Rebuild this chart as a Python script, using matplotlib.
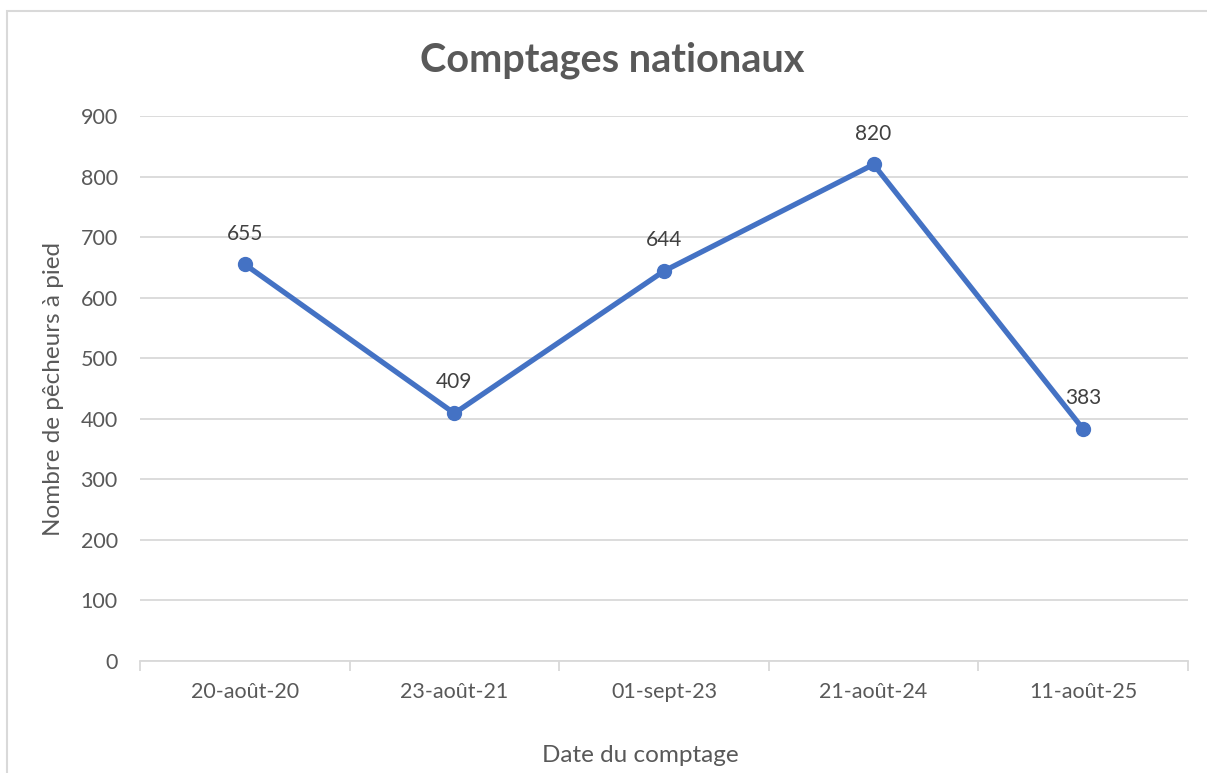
import matplotlib.pyplot as plt
from matplotlib.patches import Rectangle

plt.rcParams['font.family'] = ['Lato', 'DejaVu Sans']

# Données
dates = ['20-août-20', '23-août-21', '01-sept-23', '21-août-24', '11-août-25']
pecheurs = [655, 409, 644, 820, 383]
yticks = [0, 100, 200, 300, 400, 500, 600, 700, 800, 900]

gris = '#595959'
bleu = '#4472C4'

fig = plt.figure(figsize=(12.07, 7.73), dpi=100)
ax = fig.add_axes([140 / 1207, 1 - 661 / 773, (1188 - 140) / 1207, (661 - 116) / 773])

# cadre du graphique
fig.patches.append(Rectangle((7 / 1207, -0.05), 1.1, 1 - 11 / 773 + 0.05,
                             transform=fig.transFigure, fill=False,
                             edgecolor='#D9D9D9', linewidth=1.5))

x = list(range(len(dates)))
ax.plot(x, pecheurs, color=bleu, linewidth=3.8, marker='o', markersize=10,
        solid_capstyle='round', zorder=3)
for xi, v in zip(x, pecheurs):
    ax.annotate(str(v), (xi, v), xytext=(0, 15), textcoords='offset points',
                ha='center', va='bottom', fontsize=15, color='#404040')

ax.set_xlim(-0.5, len(dates) - 0.5)
ax.set_ylim(0, 900)
ax.set_yticks(yticks)
ax.set_xticks(x)
ax.set_xticklabels(dates)
ax.grid(axis='y', color='#D9D9D9', linewidth=1.3)
ax.set_axisbelow(True)
for s in ['top', 'right', 'left']:
    ax.spines[s].set_visible(False)
ax.spines['bottom'].set_color('#D9D9D9')
ax.spines['bottom'].set_linewidth(1.3)

# petits traits entre les catégories
ax.set_xticks([i - 0.5 for i in range(len(dates) + 1)], minor=True)
ax.tick_params(axis='x', which='minor', length=7, color='#D9D9D9', width=1.3)
ax.tick_params(axis='x', which='major', length=0, pad=15, labelsize=15.5, labelcolor=gris)
ax.tick_params(axis='y', length=0, pad=16, labelsize=15.5, labelcolor=gris)

fig.text(640 / 1207, 1 - 755 / 773, 'Date du comptage', fontsize=17.5, color=gris,
         ha='center', va='center')
ax.set_ylabel('Nombre de pêcheurs à pied', fontsize=17.5, color=gris, labelpad=12)
fig.text(612 / 1207, 1 - 60 / 773, 'Comptages nationaux', fontsize=28.5, fontweight='bold',
         color=gris, ha='center', va='center')

fig.savefig('out.png', dpi=100)
